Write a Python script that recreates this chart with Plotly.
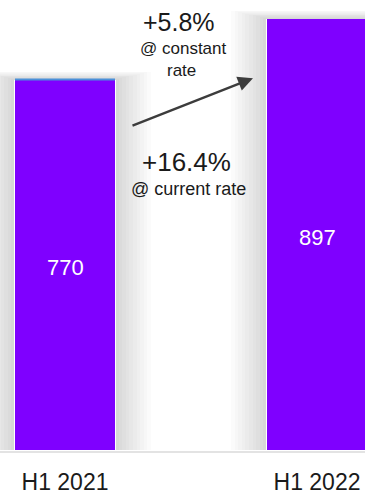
import plotly.graph_objects as go

# Revenue by half-year
periods = ["H1 2021", "H1 2022"]
revenue = [770, 897]
growth_constant = "+5.8%"
growth_current = "+16.4%"

BAR_COLOR = "#7F00FF"
FONT = "Liberation Sans, Arial, sans-serif"
W, H = 365, 495
MB = 40
PLOT_H = H - MB

xpos = list(range(len(periods)))
bar_w = 100 / 252  # bar width in axis units (252 px between categories)
px_per_x = 252
px_per_y = 374.5 / 770

fig = go.Figure()

# soft drop shadow around each bar, built from stacked translucent bars
n_layers = 10
for k in range(n_layers, 0, -1):
    fig.add_trace(go.Bar(
        x=xpos, y=[v + k * 0.8 / px_per_y for v in revenue],
        width=bar_w + (2 * k * 3.6) / px_per_x,
        marker=dict(color="rgba(0,0,0,0.016)", line=dict(width=0)),
        hoverinfo="skip", showlegend=False,
    ))

# white rim between bar and shadow
fig.add_trace(go.Bar(
    x=xpos, y=revenue, width=bar_w + 2 / px_per_x,
    marker=dict(color="white", line=dict(width=0)),
    hoverinfo="skip", showlegend=False,
))

fig.add_trace(go.Bar(
    x=xpos, y=revenue, width=bar_w,
    marker=dict(color=BAR_COLOR, line=dict(width=0)),
    showlegend=False,
))

# value labels, centred in each bar
for xi, v in zip(xpos, revenue):
    fig.add_annotation(
        xref="x", yref="y", x=xi, y=v / 2, yshift=-3,
        text=str(v), showarrow=False, xanchor="center", yanchor="middle",
        font=dict(color="white", size=22, family=FONT),
    )

# thin highlight on top of the first bar
fig.add_shape(type="line", xref="x", yref="y",
              x0=xpos[0] - bar_w / 2, x1=xpos[0] + bar_w / 2,
              y0=revenue[0], y1=revenue[0],
              line=dict(color="#4A90D9", width=2))

# baseline
fig.add_shape(type="line", xref="paper", yref="paper",
              x0=0, x1=1, y0=-2 / PLOT_H, y1=-2 / PLOT_H,
              line=dict(color="#DADADA", width=1.5))


def to_x(px):
    return px / W


def to_y(py):
    return (PLOT_H - py) / PLOT_H


# growth arrow
fig.add_annotation(
    xref="paper", yref="paper", axref="pixel", ayref="pixel",
    x=to_x(253), y=to_y(79), ax=131 - 253, ay=127 - 79,
    showarrow=True, arrowhead=2, arrowsize=1.25, arrowwidth=2.4,
    arrowcolor="#3C3C3C", text="",
)

texts = [
    (growth_constant, 178.5, 22, 25),
    ("@ constant", 183, 49, 17),
    ("rate", 181.5, 71, 17),
    (growth_current, 186, 164, 26),
    ("@ current rate", 188, 191, 18),
]
for t, x, y, s in texts:
    fig.add_annotation(
        xref="paper", yref="paper", x=to_x(x), y=to_y(y),
        text=t, showarrow=False, xanchor="center", yanchor="middle",
        font=dict(size=s, color="#1A1A1A", family=FONT),
    )

fig.update_layout(
    width=W, height=H,
    margin=dict(l=0, r=0, t=0, b=MB),
    barmode="overlay", bargap=0,
    plot_bgcolor="white", paper_bgcolor="white",
    xaxis=dict(
        range=[-65 / px_per_x, (W - 65) / px_per_x],
        tickvals=xpos, ticktext=periods,
        tickfont=dict(size=23, color="#1A1A1A", family=FONT),
        ticks="outside", ticklen=11, tickcolor="rgba(0,0,0,0)",
        showgrid=False, zeroline=False, showline=False, fixedrange=True,
    ),
    yaxis=dict(range=[0, PLOT_H / px_per_y], visible=False,
               showgrid=False, zeroline=False, fixedrange=True),
    font=dict(family=FONT),
)

fig.write_html("out.html")
